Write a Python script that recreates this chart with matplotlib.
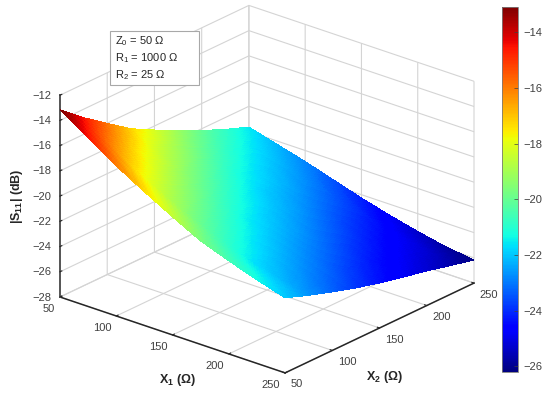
import numpy as np
import matplotlib
matplotlib.use("Agg")
import matplotlib.pyplot as plt
from matplotlib import cm, colors
from matplotlib.patches import Rectangle
from mpl_toolkits.mplot3d import proj3d

plt.rcParams['font.family'] = ['Liberation Sans', 'DejaVu Sans']
plt.rcParams['mathtext.fontset'] = 'custom'
plt.rcParams['mathtext.rm'] = 'Liberation Sans'
plt.rcParams['mathtext.bf'] = 'Liberation Sans:bold'

x1_values = [50, 75, 100, 125, 150, 175, 200, 225, 250]
x2_values = [50, 75, 100, 125, 150, 175, 200, 225, 250]
# rows: X1, columns: X2
s11_db = [
    [-13.16, -14.67, -16.02, -17.33, -18.32, -19.27, -20.14, -20.94, -21.65],
    [-14.63, -16.25, -17.50, -18.50, -19.35, -20.25, -21.05, -21.70, -22.27],
    [-16.10, -17.70, -18.65, -19.55, -20.40, -21.20, -21.80, -22.30, -22.88],
    [-17.40, -18.85, -19.70, -20.55, -21.30, -21.95, -22.35, -22.90, -23.58],
    [-18.63, -19.90, -20.70, -21.45, -22.00, -22.45, -23.00, -23.55, -24.27],
    [-19.79, -20.85, -21.55, -22.10, -22.55, -23.10, -23.70, -24.20, -24.88],
    [-20.62, -21.70, -22.20, -22.70, -23.20, -23.80, -24.30, -24.75, -25.42],
    [-21.37, -22.25, -22.80, -23.30, -23.90, -24.40, -24.80, -25.20, -25.88],
    [-22.05, -22.74, -23.36, -23.93, -24.43, -24.85, -25.26, -25.72, -26.17],
]
x_ticks = [50, 100, 150, 200, 250]
z_ticks = [-28, -26, -24, -22, -20, -18, -16, -14, -12]
cbar_ticks = [-26, -24, -22, -20, -18, -16, -14]
C_MIN, C_MAX = -26.2, -13.1
W, H = 550, 396

fig = plt.figure(figsize=(W / 100, H / 100), dpi=100, facecolor='white')
ax = fig.add_axes([0.0, 0.0, 0.9, 1.0], projection='3d', proj_type='ortho')
ax.set_box_aspect((294, 293, 220))
ax.view_init(elev=23.6, azim=-49.9)
ax.set_xlim(50, 250, view_margin=0)
ax.set_ylim(50, 250, view_margin=0)
ax.set_zlim(-28, -12, view_margin=0)
ax.patch.set_alpha(0)

# interpolated colour shading (like MATLAB "shading interp") of the read grid
xa = np.array(x1_values, float)
ya = np.array(x2_values, float)
Z = np.array(s11_db)
fx = np.linspace(50, 250, 97)
fy = np.linspace(50, 250, 97)
Zr = np.array([np.interp(fy, ya, r) for r in Z])
Zf = np.array([np.interp(fx, xa, Zr[:, j]) for j in range(Zr.shape[1])]).T
XX, YY = np.meshgrid(fx, fy, indexing='ij')
norm = colors.Normalize(C_MIN, C_MAX)
surf = ax.plot_surface(XX, YY, Zf, rstride=1, cstride=1, facecolors=cm.jet(norm(Zf)),
                       shade=False, linewidth=0, antialiased=False)
surf.set_clip_on(False)

ax.set_xticks(x_ticks)
ax.set_yticks(x_ticks)
ax.set_zticks(z_ticks)
ax.zaxis.set_ticks_position('lower')
for axis, col, lw in ((ax.xaxis, '#262626', 1.1), (ax.yaxis, '#262626', 1.1), (ax.zaxis, '#555555', 1.4)):
    axis.set_pane_color((1, 1, 1, 0))
    axis.pane.set_edgecolor('#cfcfcf')
    axis.line.set_color(col)
    axis.line.set_linewidth(lw)
    axis._axinfo['grid'].update(color='#d4d4d4', linewidth=0.8)
    axis._axinfo['tick'].update(inward_factor=0.0, outward_factor=0.12)
    axis.set_tick_params(labelsize=8, labelcolor='#404040', color='#262626')
ax.tick_params(axis='x', pad=-4.3)
ax.tick_params(axis='y', pad=-4.5)
ax.tick_params(axis='z', pad=-1.5)
for t in ax.xaxis.get_major_ticks():
    t.label1.set_ha('right')
for t in ax.yaxis.get_major_ticks():
    t.label1.set_ha('left')
for t in ax.zaxis.get_major_ticks():
    t.label1.set_ha('center')
    t.label1.set_va('center')


def project(x, y, z):
    px, py, _ = proj3d.proj_transform(x, y, z, ax.get_proj())
    return ax.transData.transform((px, py))


# fit the box onto its place in the figure
fig.canvas.draw()
fit_zoom = 1.0
for _ in range(3):
    left = project(50, 50, -28)
    right = project(250, 250, -28)
    fit_zoom *= (474 - 60) / (right[0] - left[0])
    ax.set_box_aspect((294, 293, 220), zoom=fit_zoom)
    fig.canvas.draw()
    left = project(50, 50, -28)
    dx = (60 - left[0]) / W
    dy = ((H - 297) - left[1]) / H
    bb = ax.get_position()
    ax.set_position([bb.x0 + dx, bb.y0 + dy, bb.width, bb.height])
    fig.canvas.draw()

# colour bar
cax = fig.add_axes([502 / W, 1 - 372 / H, 16 / W, 365 / H])
cb = fig.colorbar(cm.ScalarMappable(norm=norm, cmap='jet'), cax=cax, ticks=cbar_ticks)
cb.outline.set_edgecolor('#7a7a7a')
cb.outline.set_linewidth(0.6)
cb.ax.tick_params(labelsize=8, labelcolor='#404040', color='#404040', length=3, width=0.5,
                  direction='in', pad=4)

# annotation box
fig.add_artist(Rectangle((110 / W, 1 - 85 / H), 89 / W, 54 / H, transform=fig.transFigure,
                         facecolor='white', edgecolor='#a8a8a8', linewidth=0.8, zorder=5))
for y, s in ((41, r'Z$_{0}$ = 50 Ω'), (58, r'R$_{1}$ = 1000 Ω'), (75, r'R$_{2}$ = 25 Ω')):
    fig.text(115 / W, 1 - y / H, s, fontsize=8, color='#262626', va='center', zorder=6)

# axis titles
fig.text(177 / W, 1 - 380 / H, r'$\mathbf{X_{1}}$ $\mathbf{(Ω)}$', fontsize=9, ha='center', va='center', color='#262626')
fig.text(384 / W, 1 - 377 / H, r'$\mathbf{X_{2}}$ $\mathbf{(Ω)}$', fontsize=9, ha='center', va='center', color='#262626')
fig.text(17 / W, 1 - 196 / H, r'$\mathbf{|S_{11}|}$ $\mathbf{(dB)}$', fontsize=9, rotation=90, ha='center', va='center', color='#262626')

fig.savefig('out.png', dpi=100)
